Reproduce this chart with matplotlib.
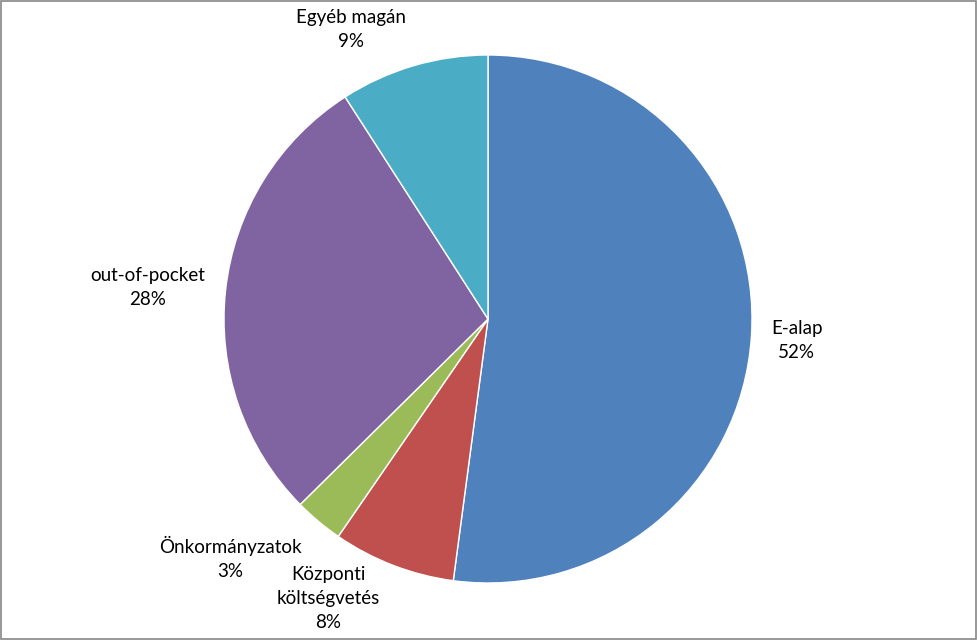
import matplotlib.pyplot as plt
from matplotlib.patches import Rectangle

plt.rcParams['font.family'] = ['Lato', 'DejaVu Sans']

names = ['E-alap', 'Központi\nköltségvetés', 'Önkormányzatok', 'out-of-pocket', 'Egyéb magán']
shares = [52.1, 7.5, 3.0, 28.3, 9.1]
colors = ['#4F81BD', '#C0504D', '#9BBB59', '#8064A2', '#4BACC6']
# label centres in pie-radius units
label_xy = [(1.17, -0.08), (-0.606, -1.06), (-0.977, -0.905), (-1.288, 0.121), (-0.519, 1.098)]

fig = plt.figure(figsize=(9.78, 6.4), dpi=100)
ax = fig.add_axes([0, 0, 1, 1])

wedges, texts = ax.pie(shares, colors=colors, startangle=90, counterclock=False,
                       radius=1, wedgeprops=dict(edgecolor='white', linewidth=1.0),
                       labels=[f'{n}\n{round(s)}%' for n, s in zip(names, shares)])
for t, (x, y) in zip(texts, label_xy):
    t.set_position((x, y))
    t.set_ha('center')
    t.set_va('center')
    t.set_fontsize(13.5)
    t.set_linespacing(1.5)
    t.set_color('black')

ax.set_aspect('auto')
ax.set_xlim(-488 / 264, (978 - 488) / 264)
ax.set_ylim((319 - 640) / 264, 319 / 264)
ax.axis('off')

fig.patches.append(Rectangle((0.001, 0.001), 0.997, 0.997, transform=fig.transFigure,
                             fill=False, edgecolor='#868686', linewidth=1.2))

fig.savefig('out.png', dpi=100)
